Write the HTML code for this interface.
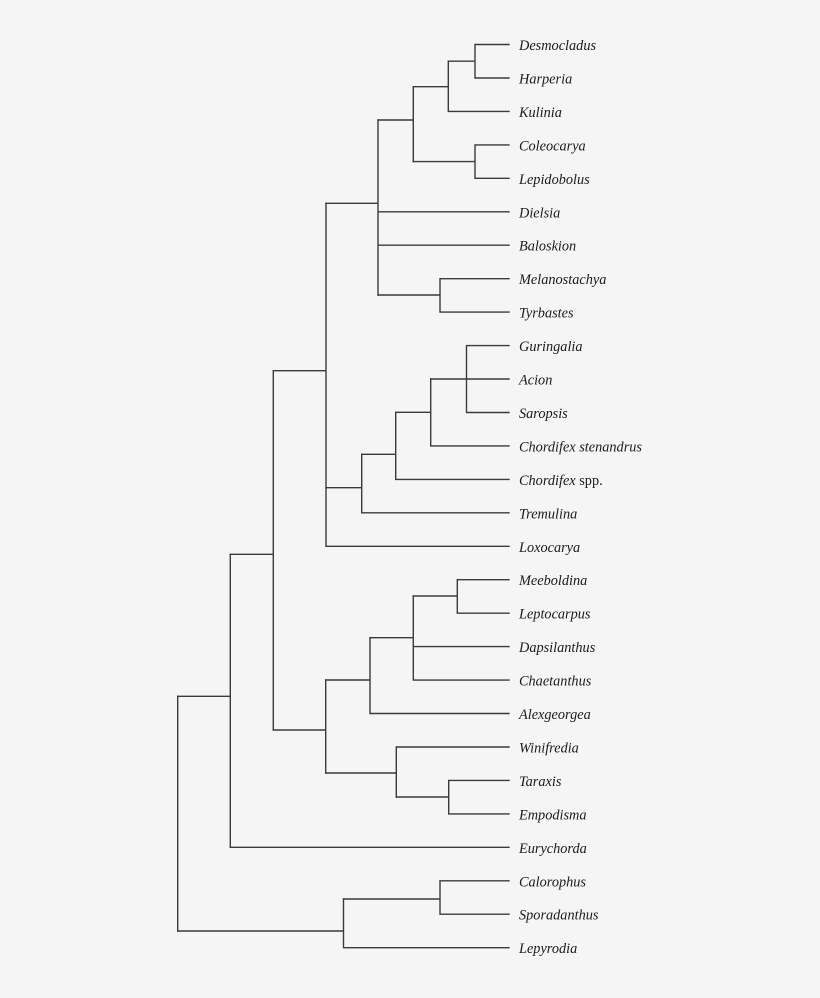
<!DOCTYPE html>
<html>
<head>
<meta charset="utf-8">
<style>
  html, body { margin:0; padding:0; background:#f5f5f5; }
  svg { display:block; }
  text { font-family: "Liberation Serif", serif; font-size:14.3px; fill:#1a1a1a; }
  .i { font-style: italic; }
</style>
</head>
<body>
<svg width="820" height="998" viewBox="0 0 820 998" xmlns="http://www.w3.org/2000/svg">
  <rect width="820" height="998" fill="#f5f5f5"/>
  <g stroke="#3a3a3a" stroke-width="1.4" fill="none" stroke-linecap="square">
    <!-- A -->
    <path d="M475 44.5V78 M475 44.5H509 M475 78H509 M448.3 61.2H475"/>
    <!-- B -->
    <path d="M448.3 61.2V111.4 M448.3 111.4H509 M413.3 86.7H448.3"/>
    <!-- C2 -->
    <path d="M475 144.9V178.3 M475 144.9H509 M475 178.3H509 M413.3 161.6H475"/>
    <!-- C -->
    <path d="M413.3 86.7V161.6 M378 120H413.3"/>
    <!-- M -->
    <path d="M440 278.7V312.1 M440 278.7H509 M440 312.1H509 M378 295H440"/>
    <!-- D -->
    <path d="M378 120V295 M378 211.8H509 M378 245.2H509 M326 203.3H378"/>
    <!-- K -->
    <path d="M466.5 345.6V412.5 M466.5 345.6H509 M466.5 379H509 M466.5 412.5H509 M430.7 379H466.5"/>
    <!-- J -->
    <path d="M430.7 379V445.9 M430.7 445.9H509 M395.7 412.3H430.7"/>
    <!-- I -->
    <path d="M395.7 412.3V479.4 M395.7 479.4H509 M361.7 454.3H395.7"/>
    <!-- H -->
    <path d="M361.7 454.3V512.8 M361.7 512.8H509 M326 487.7H361.7"/>
    <!-- E -->
    <path d="M326 203.3V546.3 M326 546.3H509 M273.3 370.7H326"/>
    <!-- L -->
    <path d="M457.3 579.7V613.2 M457.3 579.7H509 M457.3 613.2H509 M413.3 596H457.3"/>
    <!-- N -->
    <path d="M413.3 596V680.1 M413.3 646.6H509 M413.3 680.1H509 M370 637.7H413.3"/>
    <!-- O -->
    <path d="M370 637.7V713.5 M370 713.5H509 M325.7 680H370"/>
    <!-- Q -->
    <path d="M448.7 780.4V813.9 M448.7 780.4H509 M448.7 813.9H509 M396.3 797H448.7"/>
    <!-- P -->
    <path d="M396.3 747V797 M396.3 747H509 M325.7 773H396.3"/>
    <!-- R -->
    <path d="M325.7 680V773 M273.3 730H325.7"/>
    <!-- F -->
    <path d="M273.3 370.7V730 M230.3 554.3H273.3"/>
    <!-- S -->
    <path d="M230.3 554.3V847.3 M230.3 847.3H509 M177.7 696.3H230.3"/>
    <!-- T -->
    <path d="M440 880.8V914.2 M440 880.8H509 M440 914.2H509 M343.5 899H440"/>
    <!-- U -->
    <path d="M343.5 899V947.7 M343.5 947.7H509 M177.7 931H343.5"/>
    <!-- Root -->
    <path d="M177.7 696.3V931"/>
  </g>
  <g>
    <text class="i" x="519" y="50">Desmocladus</text>
    <text class="i" x="519" y="83.5">Harperia</text>
    <text class="i" x="519" y="116.9">Kulinia</text>
    <text class="i" x="519" y="150.4">Coleocarya</text>
    <text class="i" x="519" y="183.8">Lepidobolus</text>
    <text class="i" x="519" y="217.3">Dielsia</text>
    <text class="i" x="519" y="250.7">Baloskion</text>
    <text class="i" x="519" y="284.2">Melanostachya</text>
    <text class="i" x="519" y="317.6">Tyrbastes</text>
    <text class="i" x="519" y="351.1">Guringalia</text>
    <text class="i" x="519" y="384.5">Acion</text>
    <text class="i" x="519" y="418">Saropsis</text>
    <text class="i" x="519" y="451.4">Chordifex stenandrus</text>
    <text x="519" y="484.9"><tspan class="i">Chordifex</tspan> spp.</text>
    <text class="i" x="519" y="518.3">Tremulina</text>
    <text class="i" x="519" y="551.8">Loxocarya</text>
    <text class="i" x="519" y="585.2">Meeboldina</text>
    <text class="i" x="519" y="618.7">Leptocarpus</text>
    <text class="i" x="519" y="652.1">Dapsilanthus</text>
    <text class="i" x="519" y="685.6">Chaetanthus</text>
    <text class="i" x="519" y="719">Alexgeorgea</text>
    <text class="i" x="519" y="752.5">Winifredia</text>
    <text class="i" x="519" y="785.9">Taraxis</text>
    <text class="i" x="519" y="819.4">Empodisma</text>
    <text class="i" x="519" y="852.8">Eurychorda</text>
    <text class="i" x="519" y="886.3">Calorophus</text>
    <text class="i" x="519" y="919.7">Sporadanthus</text>
    <text class="i" x="519" y="953.2">Lepyrodia</text>
  </g>
</svg>
</body>
</html>
